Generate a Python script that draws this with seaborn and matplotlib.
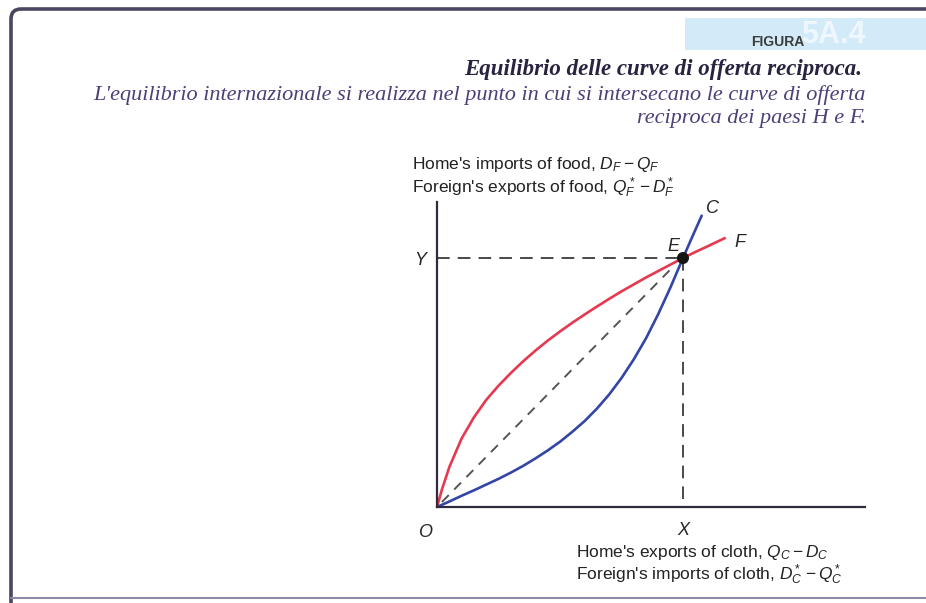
import numpy as np
import pandas as pd
import matplotlib.pyplot as plt
import seaborn as sns
from matplotlib.patches import FancyBboxPatch, Rectangle

# equilibrium point E = (X, Y)
EQ_X = 1.0
EQ_Y = 1.0

# red offer curve F (concave)
F_X = [0, 0.02, 0.05, 0.1, 0.15, 0.2, 0.25, 0.3, 0.35, 0.4, 0.45, 0.5,
       0.55, 0.6, 0.65, 0.7, 0.75, 0.8, 0.85, 0.9, 0.95, 1.0, 1.05, 1.1, 1.17]
F_Y = [0, 0.07, 0.16, 0.275, 0.36, 0.43, 0.487, 0.538, 0.585, 0.628, 0.668, 0.705,
       0.74, 0.773, 0.805, 0.836, 0.866, 0.894, 0.922, 0.948, 0.974, 1.0, 1.024, 1.047, 1.08]

# blue offer curve C (convex)
C_X = [0, 0.05, 0.1, 0.15, 0.2, 0.25, 0.3, 0.35, 0.4, 0.45, 0.5, 0.55,
       0.6, 0.65, 0.7, 0.75, 0.8, 0.85, 0.9, 0.95, 1.0, 1.04, 1.076]
C_Y = [0, 0.022, 0.045, 0.067, 0.09, 0.113, 0.138, 0.165, 0.195, 0.227, 0.262, 0.302,
       0.345, 0.395, 0.452, 0.518, 0.593, 0.678, 0.776, 0.884, 1.0, 1.09, 1.17]

# dashed ray from O towards E
RAY_X = [0.02, 0.955]
RAY_Y = [0.02, 0.96]

X_MAX = 1.74
Y_MAX = 1.225

TITLE = "Equilibrio delle curve di offerta reciproca."
SUBTITLE = ["L'equilibrio internazionale si realizza nel punto in cui si intersecano le curve di offerta",
            "reciproca dei paesi H e F."]
Y_LABEL = ["Home's imports of food, $D_F - Q_F$",
           "Foreign's exports of food, $Q^*_F - D^*_F$"]
X_LABEL = ["Home's exports of cloth, $Q_C - D_C$",
           "Foreign's imports of cloth, $D^*_C - Q^*_C$"]

RED = "#e6384f"
BLUE = "#3345a6"
AXIS_COL = "#2f2b3d"

sns.set_style("white")
plt.rcParams['font.family'] = ['Liberation Sans', 'DejaVu Sans']
plt.rcParams['mathtext.fontset'] = 'custom'
plt.rcParams['mathtext.rm'] = 'Liberation Sans'
plt.rcParams['mathtext.it'] = 'Liberation Sans:italic'

fig = plt.figure(figsize=(9.26, 6.03), dpi=100)

# background layer in pixel units: frame, header band, titles
bg = fig.add_axes([0, 0, 1, 1])
bg.set_xlim(0, 926)
bg.set_ylim(603, 0)
bg.axis('off')
bg.add_patch(FancyBboxPatch((11, 9), 980, 700, boxstyle="round,pad=0,rounding_size=10",
                            lw=2.6, ec="#4a4560", fc="none"))
bg.plot([11, 926], [598, 598], color="#9089a8", lw=1.5)
bg.add_patch(Rectangle((685, 18), 260, 32, fc="#d3eaf8", ec="none"))
bg.text(778, 42, "FIGURA", ha='center', va='center', fontsize=10,
        fontweight='semibold', color="#3d3d3d")
bg.text(833, 35, "5A.4", ha='center', va='center', fontsize=22,
        fontweight='bold', color="#eef7fd")
bg.text(862, 70, TITLE, ha='right', va='center', family='Liberation Serif',
        style='italic', weight='bold', fontsize=16.5, color="#2a2340")
bg.text(866, 95, SUBTITLE[0], ha='right', va='center', family='Liberation Serif',
        style='italic', fontsize=16, color="#4e3f78")
bg.text(866, 119, SUBTITLE[1], ha='right', va='center', family='Liberation Serif',
        style='italic', fontsize=16, color="#4e3f78")

bg.text(412, 165, Y_LABEL[0], ha='left', va='center', fontsize=12.5, color="#222222")
bg.text(412, 188, Y_LABEL[1], ha='left', va='center', fontsize=12.5, color="#222222")
bg.text(576, 552, X_LABEL[0], ha='left', va='center', fontsize=12.5, color="#222222")
bg.text(576, 575, X_LABEL[1], ha='left', va='center', fontsize=12.5, color="#222222")

# main diagram
ax = fig.add_axes([437 / 926, 1 - 507 / 603, (865 - 437) / 926, (507 - 202) / 603])
ax.patch.set_visible(False)
ax.set_xlim(0, X_MAX)
ax.set_ylim(0, Y_MAX)

ax.plot(RAY_X, RAY_Y, color="#555555", lw=1.4, dashes=(5, 4))
ax.plot([0, EQ_X], [EQ_Y, EQ_Y], color="#3a3a3a", lw=1.3, dashes=(7, 4.5))
ax.plot([EQ_X, EQ_X], [EQ_Y, 0], color="#3a3a3a", lw=1.3, dashes=(7, 4.5))

sns.lineplot(x=F_X, y=F_Y, color=RED, linewidth=1.9, sort=False, ax=ax)
sns.lineplot(x=C_X, y=C_Y, color=BLUE, linewidth=1.9, sort=False, ax=ax)
sns.scatterplot(x=[EQ_X], y=[EQ_Y], s=75, color="#151515", edgecolor="none", zorder=5, ax=ax)

ax.text(0.96, 1.048, "E", style='italic', fontsize=13, ha='center', va='center')
ax.text(1.232, 1.064, "F", style='italic', fontsize=13, ha='center', va='center')
ax.text(1.122, 1.2, "C", style='italic', fontsize=13, ha='center', va='center')
ax.text(-0.049, -0.104, "O", style='italic', fontsize=13, ha='center', va='center')

for side in ['top', 'right']:
    ax.spines[side].set_visible(False)
for side in ['left', 'bottom']:
    ax.spines[side].set_linewidth(1.6)
    ax.spines[side].set_color(AXIS_COL)

ax.set_xticks([EQ_X], ['X'])
ax.set_yticks([EQ_Y], ['Y'])
ax.tick_params(direction='inout', length=10, width=1.2, color=AXIS_COL, labelsize=13)
ax.tick_params(axis='x', pad=6)
ax.tick_params(axis='y', pad=3)
for lbl in ax.get_xticklabels() + ax.get_yticklabels():
    lbl.set_fontstyle('italic')

fig.savefig("out.png", dpi=100)
